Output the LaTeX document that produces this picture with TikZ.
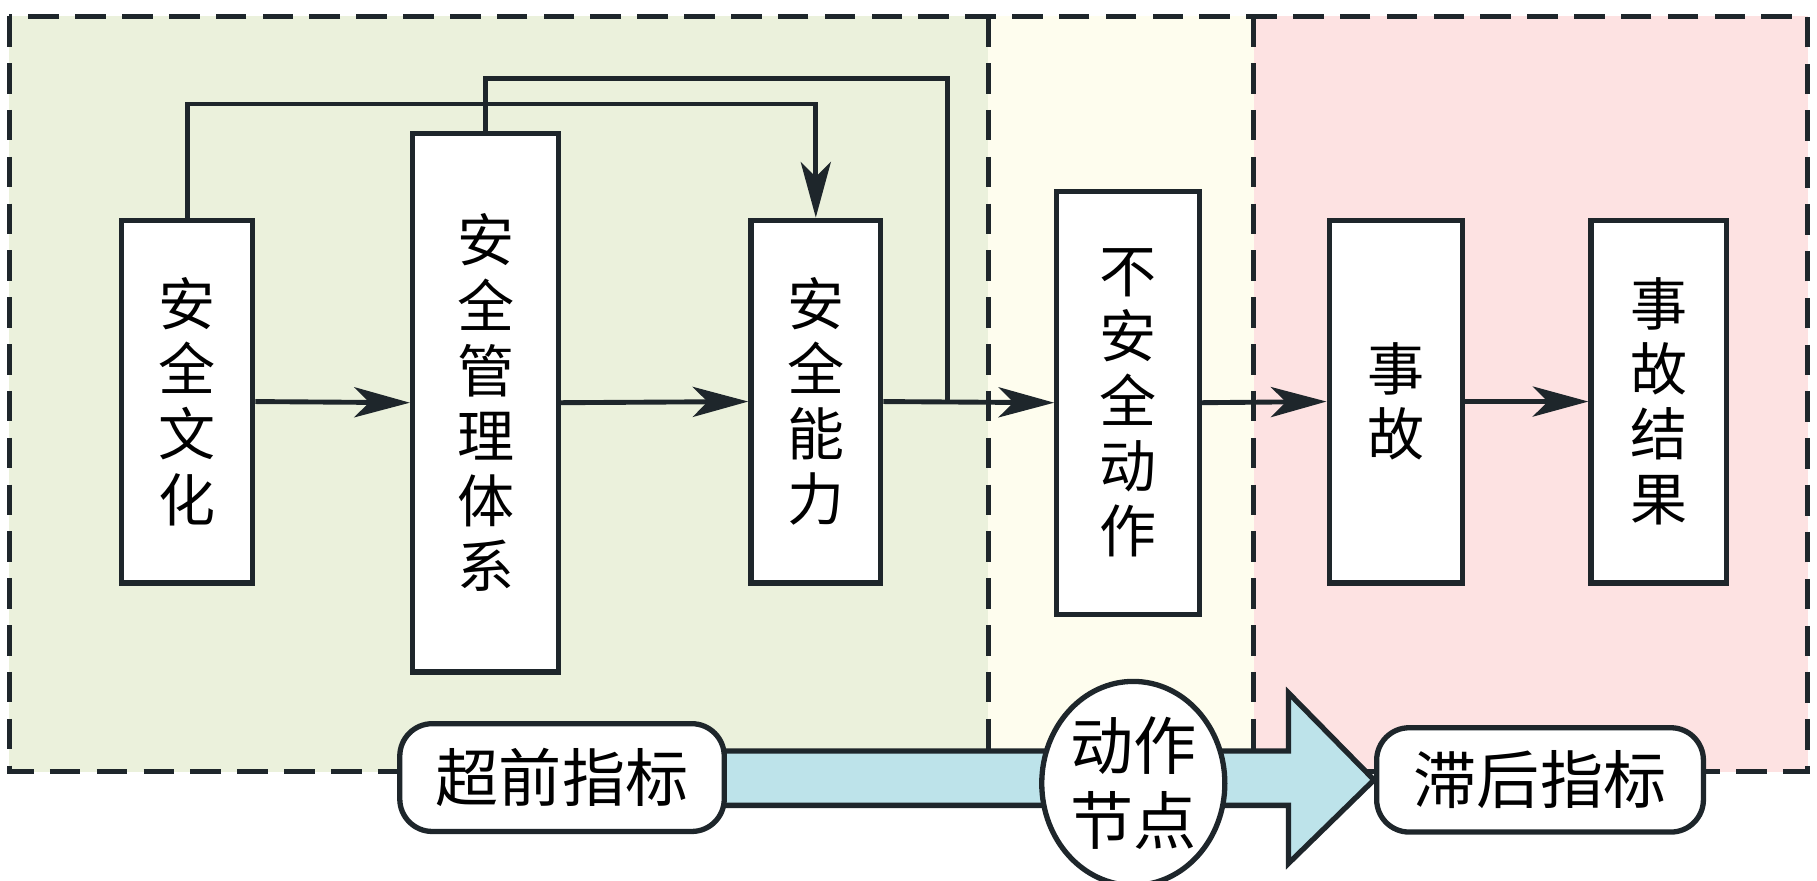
\documentclass[tikz,border=0pt]{standalone}
\usepackage{fontspec}
\usepackage{tikz}
\usetikzlibrary{arrows.meta,shapes.geometric}
\newfontfamily\cjk{Noto Sans CJK SC}
\definecolor{leadgreen}{HTML}{EBF1DC}
\definecolor{actyellow}{HTML}{FEFDEE}
\definecolor{lagpink}{HTML}{FDE2E2}
\definecolor{arrowblue}{HTML}{BDE3EA}
\definecolor{edge}{HTML}{1E262B}
\tikzstyle{stage}=[draw=edge,line width=1.3pt,fill=white,inner sep=0pt,align=center,font=\cjk\fontsize{14}{16}\selectfont]
\tikzstyle{flow}=[draw=edge,line width=1.2pt,-{Stealth[length=4.8mm,width=2.6mm,inset=1.3mm]}]
\tikzstyle{link}=[draw=edge,line width=1.2pt]
\tikzstyle{zone}=[draw=edge,line width=1.2pt,dash pattern=on 7.5pt off 4pt]
\tikzstyle{marker}=[draw=edge,line width=1.3pt,fill=white,rounded corners=2.8mm,inner sep=0pt,font=\cjk\fontsize{15.5}{17}\selectfont]

\begin{document}
\begin{tikzpicture}[x=0.1mm,y=-0.1mm]
\useasboundingbox (0,0) rectangle (1568,760);
% background zones
\fill[leadgreen] (8,14) rectangle (853,666);
\fill[actyellow] (853,14) rectangle (1082,666);
\fill[lagpink] (1082,14) rectangle (1560,666);
\draw[zone] (8,14) rectangle (1560,666);
\draw[zone] (853,14)--(853,648);
\draw[zone] (1082,14)--(1082,648);

% stages
\node[stage,minimum width=11.3mm,minimum height=31.3mm] (culture) at (161.5,346.5) {安\\全\\文\\化};
\node[stage,minimum width=12.6mm,minimum height=46.5mm] (system) at (419,347.5) {安\\全\\管\\理\\体\\系};
\node[stage,minimum width=11.2mm,minimum height=31.3mm] (ability) at (704,346.5) {安\\全\\能\\力};
\node[stage,minimum width=12.3mm,minimum height=36.5mm] (unsafe) at (973.5,347.5) {不\\安\\全\\动\\作};
\node[stage,minimum width=11.5mm,minimum height=31.3mm] (accident) at (1204.5,346.5) {事\\故};
\node[stage,minimum width=11.7mm,minimum height=31.3mm] (result) at (1431.5,346.5) {事\\故\\结\\果};
\coordinate (join) at (818,347);

\draw[flow] (culture.east)--(system.west);
\draw[flow] (system.east)--(ability.west);
\draw[flow] (ability.east)--(unsafe.west);
\draw[flow] (unsafe.east)--(accident.west);
\draw[flow] (accident.east)--(result.west);
\draw[flow] (culture.north)--++(0,-98)-|(ability.north);
\draw[link] (system.north)--++(0,-45)-|(join);

% indicators
\coordinate (tail) at (485,671);
\node[marker,minimum width=28.2mm,minimum height=9mm] (lag) at (1329,673) {滞后指标};
\draw[edge,line width=1.3pt,fill=arrowblue] (tail|-0,648)--(1112,648)--(1112,598)--(lag.west)--(1112,745)--(1112,695)--(tail|-0,695)--cycle;
\node[marker,minimum width=28mm,minimum height=9.3mm] (ahead) at (tail) {超前指标};
\node[draw=edge,line width=1.3pt,fill=white,ellipse,inner sep=0pt,minimum width=15.8mm,minimum height=17.6mm,align=center,font=\cjk\fontsize{15.5}{18.5}\selectfont] (act) at (978,676) {动作\\节点};
\end{tikzpicture}
\end{document}
